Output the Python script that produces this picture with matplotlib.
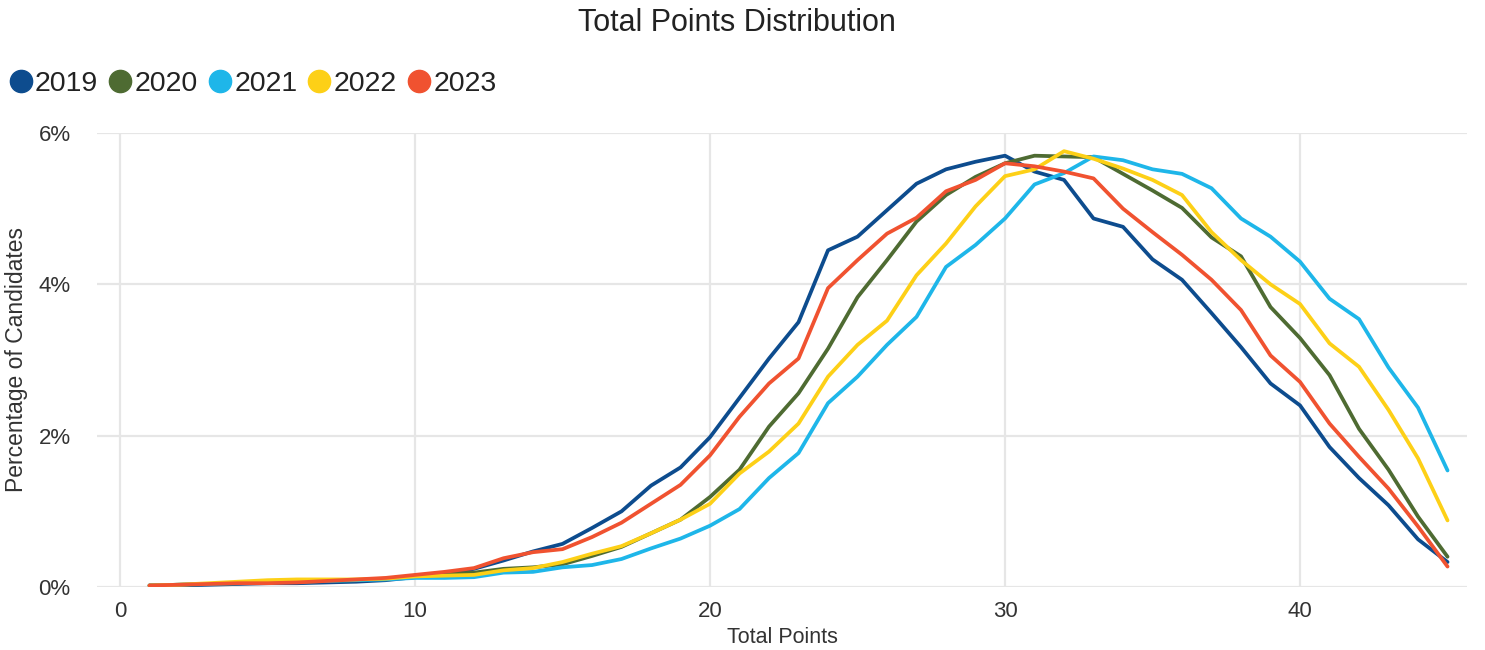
import matplotlib
matplotlib.use("Agg")
import matplotlib.pyplot as plt
from matplotlib.lines import Line2D
from matplotlib.ticker import FuncFormatter

plt.rcParams['font.family'] = ['Liberation Sans', 'DejaVu Sans']

points = list(range(1, 46))
years = ["2019", "2020", "2021", "2022", "2023"]
colors = ["#0D4C8E", "#4E6B32", "#1EB6E9", "#FDD017", "#F05230"]

pct_2019 = [0.02, 0.02, 0.03, 0.04, 0.05, 0.05, 0.06, 0.07, 0.09, 0.13, 0.17, 0.24, 0.35, 0.47, 0.57,
            0.78, 1.00, 1.34, 1.58, 1.98, 2.50, 3.02, 3.50, 4.45, 4.63, 4.98, 5.33, 5.52, 5.62, 5.70,
            5.49, 5.38, 4.87, 4.76, 4.33, 4.06, 3.62, 3.17, 2.69, 2.40, 1.85, 1.44, 1.08, 0.63, 0.33]
pct_2020 = [0.02, 0.03, 0.04, 0.05, 0.06, 0.07, 0.08, 0.09, 0.11, 0.14, 0.17, 0.19, 0.24, 0.26, 0.30,
            0.41, 0.53, 0.71, 0.89, 1.19, 1.55, 2.12, 2.56, 3.15, 3.83, 4.32, 4.83, 5.18, 5.42, 5.60,
            5.70, 5.69, 5.68, 5.46, 5.24, 5.01, 4.62, 4.37, 3.70, 3.29, 2.80, 2.09, 1.55, 0.93, 0.40]
pct_2021 = [0.02, 0.03, 0.04, 0.05, 0.06, 0.07, 0.08, 0.09, 0.10, 0.12, 0.12, 0.13, 0.19, 0.20, 0.26,
            0.29, 0.37, 0.51, 0.64, 0.81, 1.03, 1.44, 1.77, 2.43, 2.78, 3.20, 3.57, 4.23, 4.52, 4.87,
            5.32, 5.47, 5.69, 5.64, 5.52, 5.46, 5.27, 4.87, 4.63, 4.30, 3.81, 3.54, 2.90, 2.37, 1.54]
pct_2022 = [0.02, 0.03, 0.05, 0.07, 0.09, 0.10, 0.10, 0.10, 0.11, 0.14, 0.15, 0.16, 0.22, 0.25, 0.33,
            0.44, 0.54, 0.71, 0.89, 1.10, 1.50, 1.79, 2.16, 2.78, 3.20, 3.52, 4.12, 4.54, 5.03, 5.43,
            5.52, 5.76, 5.66, 5.53, 5.38, 5.18, 4.69, 4.32, 4.00, 3.74, 3.22, 2.91, 2.34, 1.70, 0.88]
pct_2023 = [0.02, 0.03, 0.04, 0.05, 0.05, 0.06, 0.08, 0.10, 0.12, 0.16, 0.20, 0.25, 0.38, 0.46, 0.50,
            0.66, 0.85, 1.10, 1.35, 1.74, 2.25, 2.69, 3.02, 3.95, 4.32, 4.67, 4.88, 5.23, 5.38, 5.60,
            5.56, 5.49, 5.40, 5.00, 4.69, 4.39, 4.06, 3.66, 3.06, 2.71, 2.16, 1.72, 1.30, 0.80, 0.27]
series = [pct_2019, pct_2020, pct_2021, pct_2022, pct_2023]

x_ticks = [0, 10, 20, 30, 40]
y_ticks = [0, 2, 4, 6]

fig = plt.figure(figsize=(14.85, 6.5), dpi=100)
ax = fig.add_axes([97/1485, 1 - 587/650, (1467 - 97)/1485, (587 - 133)/650])

for yr, vals, c in zip(years, series, colors):
    ax.plot(points, vals, color=c, lw=2.7, label=yr, solid_joinstyle='round', solid_capstyle='round', zorder=3)

ax.set_xlim(-0.78, 45.66)
ax.set_ylim(0, 6)
ax.set_xticks(x_ticks)
ax.set_yticks(y_ticks)
ax.yaxis.set_major_formatter(FuncFormatter(lambda v, p: f"{v:.0f}%"))
ax.grid(True, color="#E6E6E6", lw=1.6, zorder=0)
ax.set_axisbelow(True)
for s in ax.spines.values():
    s.set_visible(False)
ax.tick_params(length=0, labelsize=16, labelcolor="#333333")
ax.tick_params(axis='y', pad=19)
ax.tick_params(axis='x', pad=10)
ax.set_xlabel("Total Points", fontsize=15.5, color="#333333", labelpad=4)

fig.text(16.5/1485, 1 - 360/650, "Percentage of Candidates", rotation=90, ha='center', va='center',
         fontsize=16.5, color="#333333")

fig.suptitle("Total Points Distribution", x=0.496, y=1 - 23/650, va='center', fontsize=22, color="#222222")

handles = [Line2D([0], [0], marker='o', ls='none', markersize=16, markerfacecolor=c, markeredgecolor=c)
           for c in colors]
fig.legend(handles, years, loc='center left', bbox_to_anchor=(2/1485, 1 - 84/650), ncol=5, frameon=False,
           fontsize=20.5, handlelength=0.9, handletextpad=0.05, columnspacing=0.33, borderaxespad=0,
           borderpad=0.2, labelcolor="#222222")

fig.savefig("out.png", dpi=100, facecolor="white")
